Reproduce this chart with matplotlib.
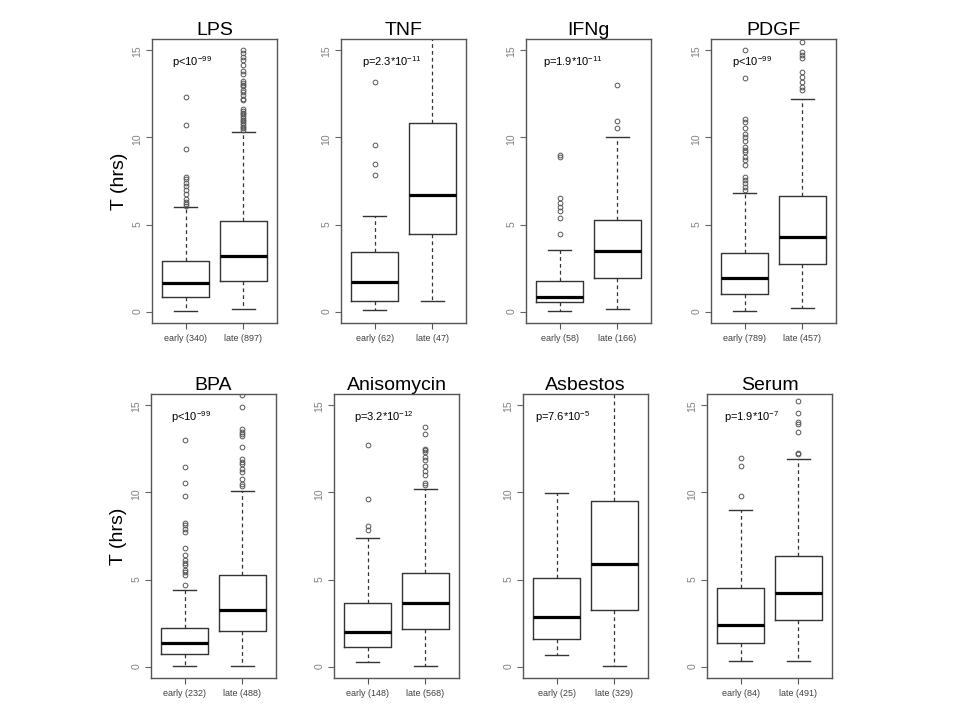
import matplotlib
matplotlib.use('Agg')
import matplotlib.pyplot as plt

plt.rcParams['font.family'] = ['Liberation Sans', 'DejaVu Sans']
plt.rcParams['mathtext.default'] = 'regular'

# panel titles, group sizes and p-values
titles = ['LPS', 'TNF', 'IFNg', 'PDGF', 'BPA', 'Anisomycin', 'Asbestos', 'Serum']
n_early = [340, 62, 58, 789, 232, 148, 25, 84]
n_late = [897, 47, 166, 457, 488, 568, 329, 491]
p_text = ['p<10$^{-99}$', 'p=2.3*10$^{-11}$', 'p=1.9*10$^{-11}$', 'p<10$^{-99}$',
          'p<10$^{-99}$', 'p=3.2*10$^{-12}$', 'p=7.6*10$^{-5}$', 'p=1.9*10$^{-7}$']

# (lower whisker, Q1, median, Q3, upper whisker) in hours
early_box = [(0.1, 0.9, 1.7, 2.95, 6.0),
             (0.15, 0.63, 1.75, 3.47, 5.5),
             (0.1, 0.59, 0.9, 1.77, 3.58),
             (0.1, 1.08, 1.98, 3.37, 6.79),
             (0.09, 0.79, 1.4, 2.26, 4.42),
             (0.3, 1.19, 2.04, 3.66, 7.38),
             (0.69, 1.6, 2.9, 5.09, 9.98),
             (0.39, 1.37, 2.42, 4.53, 8.99)]
late_box = [(0.2, 1.8, 3.2, 5.2, 10.3),
            (0.65, 4.46, 6.7, 10.8, 16.5),
            (0.19, 1.96, 3.49, 5.26, 10.0),
            (0.28, 2.79, 4.28, 6.65, 12.15),
            (0.09, 2.08, 3.28, 5.26, 10.09),
            (0.07, 2.17, 3.68, 5.39, 10.17),
            (0.07, 3.29, 5.89, 9.5, 16.5),
            (0.39, 2.7, 4.27, 6.38, 11.91)]

early_out = [[12.3, 10.7, 9.3, 7.75, 7.6, 7.4, 7.2, 7.0, 6.75, 6.5, 6.3, 6.17, 6.08],
             [13.15, 9.57, 8.47, 7.82],
             [9.0, 8.86, 6.53, 6.25, 6.0, 5.77, 5.39, 4.48],
             [15.0, 13.35, 11.06, 10.87, 10.5, 10.2, 10.0, 9.79, 9.45, 9.26, 9.17,
              8.88, 8.69, 8.4, 7.74, 7.55, 7.36, 7.17, 6.98],
             [12.98, 11.42, 10.51, 9.81, 8.26, 8.11, 7.92, 7.74, 6.79, 6.42, 6.13,
              5.98, 5.85, 5.57, 5.43, 5.28, 4.68],
             [12.71, 9.61, 8.07, 7.84],
             [],
             [11.95, 11.52, 9.78]]
late_out = [[15.0, 14.8, 14.6, 14.4, 14.1, 13.8, 13.6, 13.2, 13.1, 13.0, 12.9, 12.7,
             12.6, 12.4, 12.2, 12.1, 11.6, 11.5, 11.4, 11.3, 11.2, 11.1, 11.0, 10.9,
             10.8, 10.7, 10.6, 10.5, 10.4],
            [],
            [12.97, 10.92, 10.53],
            [15.44, 14.87, 14.68, 14.49, 13.73, 13.44, 13.16, 12.87, 12.68],
            [15.57, 14.87, 13.58, 13.43, 13.3, 13.2, 12.6, 11.92, 11.74, 11.6, 11.32,
             11.13, 10.75, 10.47, 10.38],
            [13.7, 13.33, 12.49, 12.4, 12.3, 12.03, 11.84, 11.47, 11.19, 11.0, 10.54, 10.41],
            [],
            [15.22, 14.5, 14.02, 13.89, 13.43, 12.22, 12.17]]

# layout in pixels (figure 960x720)
lefts = [152, 341, 526, 711, 151, 334, 523, 707]
tops = [39, 39, 39, 39, 394, 394, 394, 394]
p_x = [0.77, 0.79, 0.72, 0.79, 0.77, 0.77, 0.63, 0.71]
W, H = 125, 284

fig = plt.figure(figsize=(9.6, 7.2), dpi=100)

for i in range(8):
    ax = fig.add_axes([lefts[i] / 960, 1 - (tops[i] + H) / 720, W / 960, H / 720])
    stats = []
    for box, out, lab in ((early_box[i], early_out[i], 'early (%d)' % n_early[i]),
                          (late_box[i], late_out[i], 'late (%d)' % n_late[i])):
        lo, q1, med, q3, hi = box
        stats.append(dict(whislo=lo, q1=q1, med=med, q3=q3, whishi=hi,
                          fliers=out, label=lab))
    ax.bxp(stats, positions=[1, 2], widths=0.8, capwidths=0.4,
           boxprops=dict(color='#333333', linewidth=1),
           medianprops=dict(color='black', linewidth=2.3),
           whiskerprops=dict(color='#333333', linewidth=0.9, linestyle=(0, (3, 2.5))),
           capprops=dict(color='#333333', linewidth=1),
           flierprops=dict(marker='o', markersize=3.4, markerfacecolor='none',
                           markeredgecolor='#555555', markeredgewidth=0.7))
    ax.set_xlim(0.42, 2.58)
    ax.set_ylim(-0.6, 15.6)
    ax.set_yticks([0, 5, 10, 15])
    ax.tick_params(axis='y', labelrotation=90, labelsize=7.5, labelcolor='#808080',
                   color='#666666', length=4, pad=3)
    ax.tick_params(axis='x', labelsize=6.5, labelcolor='#404040',
                   color='#555555', length=4, pad=4)
    for s in ax.spines.values():
        s.set_color('#555555')
        s.set_linewidth(1)
    ax.set_title(titles[i], fontsize=14, pad=3)
    ax.text(p_x[i], 14.3, p_text[i], fontsize=8, ha='left', va='center')
    if i % 4 == 0:
        ax.set_ylabel('T (hrs)', fontsize=14)
        ax.yaxis.set_label_coords(-0.19, 0.5)

fig.savefig('out.png', dpi=100)
